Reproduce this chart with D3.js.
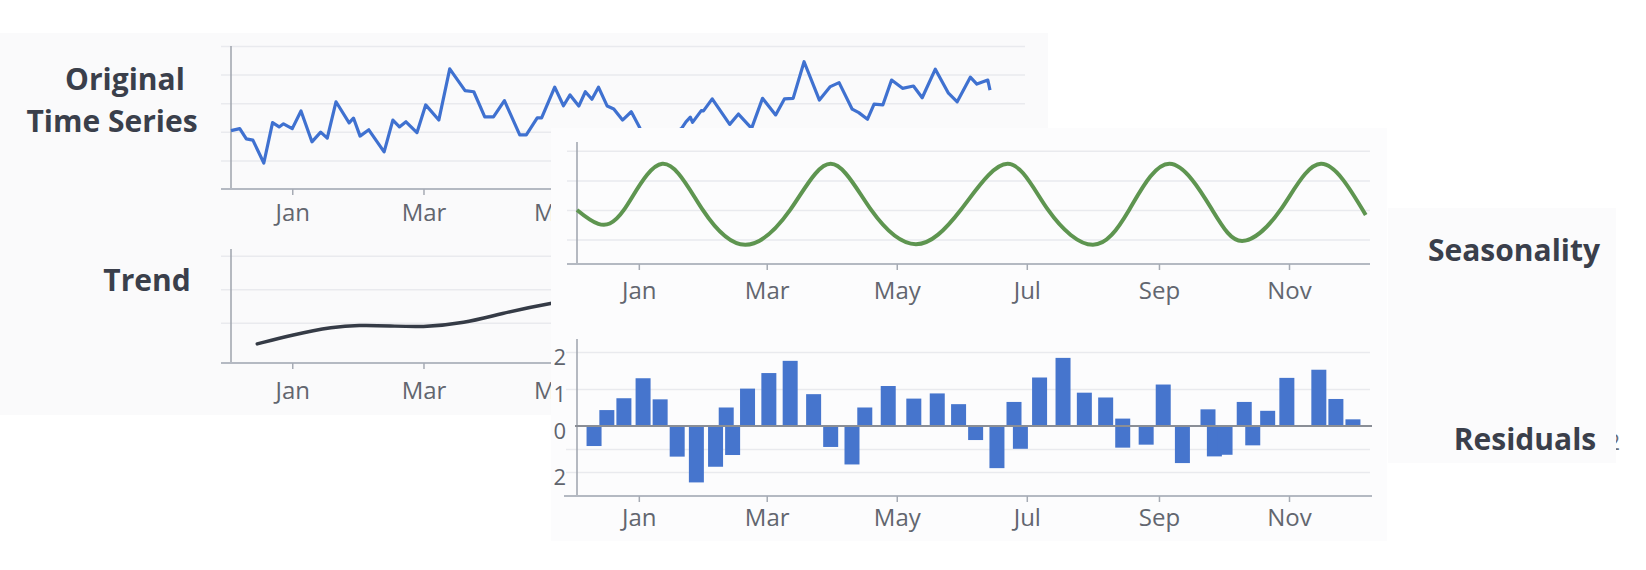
<!DOCTYPE html>
<html>
<head>
<meta charset="utf-8">
<script src="https://cdn.jsdelivr.net/npm/d3@7"></script>
<style>
  body { margin: 0; background: #ffffff; }
  svg { display: block; }
  text { font-family: "Open Sans", "DejaVu Sans", sans-serif; }
</style>
</head>
<body>
<svg width="1646" height="570"></svg>
<script>
// ---- data ----
const originalDates = ["2023-12-04","2023-12-08","2023-12-11","2023-12-14","2023-12-19","2023-12-23","2023-12-26","2023-12-28",
  "2024-01-01","2024-01-05","2024-01-10","2024-01-14","2024-01-17","2024-01-21","2024-01-27","2024-01-29",
  "2024-02-01","2024-02-05","2024-02-12","2024-02-16","2024-02-19","2024-02-22","2024-02-27",
  "2024-03-02","2024-03-08","2024-03-13","2024-03-20","2024-03-24","2024-03-29",
  "2024-04-02","2024-04-07","2024-04-14","2024-04-17","2024-04-22","2024-04-24","2024-04-30",
  "2024-05-04","2024-05-07","2024-05-11","2024-05-14","2024-05-17","2024-05-20","2024-05-24","2024-05-27","2024-05-31",
  "2024-06-04","2024-06-08","2024-06-14","2024-06-20","2024-06-27","2024-06-29",
  "2024-07-01","2024-07-02","2024-07-06","2024-07-07","2024-07-11","2024-07-19","2024-07-23","2024-07-29",
  "2024-08-03","2024-08-09","2024-08-13","2024-08-17","2024-08-22","2024-08-29",
  "2024-09-03","2024-09-07","2024-09-13","2024-09-16","2024-09-20","2024-09-23","2024-09-27",
  "2024-10-01","2024-10-06","2024-10-11","2024-10-15","2024-10-21","2024-10-27","2024-10-31",
  "2024-11-06","2024-11-09","2024-11-14","2024-11-15"];
const originalValues = [2.04,2.11,1.75,1.71,0.91,2.32,2.17,2.28,
  2.11,2.73,1.65,1.99,1.78,3.05,2.31,2.48,
  1.85,2.07,1.30,2.41,2.17,2.35,1.97,
  2.94,2.41,4.20,3.44,3.40,2.52,
  2.52,3.09,1.89,1.89,2.49,2.49,3.56,
  2.91,3.29,2.90,3.40,3.14,3.56,2.90,2.80,2.41,
  2.70,2.12,1.54,1.78,2.12,2.35,
  2.51,2.33,2.74,2.73,3.15,2.26,2.62,2.12,
  3.17,2.59,3.15,3.17,4.45,3.11,
  3.58,3.72,2.79,2.67,2.44,2.97,2.94,
  3.81,3.52,3.60,3.19,4.19,3.35,3.05,
  3.91,3.67,3.81,3.46];

const trendDates = ["2023-12-16","2024-01-01","2024-01-20","2024-01-31","2024-02-15","2024-02-29","2024-03-20","2024-04-05","2024-04-28","2024-06-01"];
const trendValues = [0.37,0.64,0.88,0.93,0.91,0.86,0.99,1.27,1.59,1.95];

const seasonDates = ["2023-12-03","2023-12-13","2023-12-25","2024-01-12","2024-01-31","2024-02-20","2024-03-12","2024-03-31",
  "2024-04-19","2024-05-10","2024-05-31","2024-06-22","2024-07-11","2024-08-01","2024-08-18","2024-09-06",
  "2024-09-26","2024-10-10","2024-10-28","2024-11-16","2024-12-07"];
const seasonValues = [0.00,-0.47,0.00,1.56,0.00,-1.18,0.00,1.56,
  0.00,-1.16,0.00,1.56,0.00,-1.18,0.00,1.56,
  0.00,-1.05,0.00,1.56,-0.17];

const residualDates = ["2023-12-11","2023-12-17","2023-12-25","2024-01-03","2024-01-11","2024-01-19","2024-01-28",
  "2024-02-06","2024-02-11","2024-02-14","2024-02-21","2024-03-02","2024-03-12","2024-03-23","2024-03-31",
  "2024-04-10","2024-04-16","2024-04-27","2024-05-09","2024-05-20","2024-05-30","2024-06-07","2024-06-17",
  "2024-06-25","2024-06-28","2024-07-07","2024-07-18","2024-07-28","2024-08-07","2024-08-15","2024-08-15",
  "2024-08-26","2024-09-03","2024-09-12","2024-09-24","2024-09-27","2024-10-02","2024-10-11","2024-10-15",
  "2024-10-22","2024-10-31","2024-11-15","2024-11-23","2024-12-01"];
const residualValues = [-0.87,0.43,0.75,1.29,0.72,-1.33,-2.45,
  -1.77,0.50,-1.26,1.01,1.43,1.76,0.86,-0.91,
  -1.67,0.50,1.08,0.74,0.88,0.59,-0.61,-1.83,
  0.65,-0.99,1.31,1.84,0.90,0.77,0.20,-0.94,
  -0.81,1.12,-1.61,0.45,-1.32,-1.25,0.65,-0.84,
  0.41,1.30,1.52,0.73,0.18];

const monthTicks = ["2024-01-01","2024-03-01","2024-05-01","2024-07-01","2024-09-01","2024-11-01"];
const residualTicks = [2, 1, 0, -2];

// ---- helpers ----
const parseDate = d3.timeParse("%Y-%m-%d");
const svg = d3.select("svg");
const tickFont = '"Open Sans", sans-serif';

function zip(dates, values) {
  return dates.map((d, i) => ({ date: parseDate(d), value: values[i] }));
}

function panel(x, y, w, h, fill) {
  svg.append("rect").attr("x", x).attr("y", y).attr("width", w).attr("height", h).attr("fill", fill);
}

function clip(id, x, y, w, h) {
  svg.append("clipPath").attr("id", id)
     .append("rect").attr("x", x).attr("y", y).attr("width", w).attr("height", h);
}

function grid(g, y, values, left, right) {
  g.append("g")
   .attr("transform", `translate(${left},0)`)
   .call(d3.axisLeft(y).tickValues(values).tickSize(-(right - left)).tickFormat(""))
   .call(s => s.select(".domain").remove())
   .selectAll("line").attr("stroke", "#e9eaee").attr("stroke-width", 1.5);
}

function yLine(g, xPos, y0, y1) {
  g.append("line").attr("x1", xPos).attr("x2", xPos).attr("y1", y0).attr("y2", y1)
   .attr("stroke", "#9ea3ad").attr("stroke-width", 1.5);
}

function xAxis(g, x, yPos, left, right, pad) {
  g.append("line").attr("x1", left).attr("x2", right).attr("y1", yPos).attr("y2", yPos)
   .attr("stroke", "#b4b9c2").attr("stroke-width", 2);
  const a = g.append("g")
   .attr("transform", `translate(0,${yPos})`)
   .call(d3.axisBottom(x).tickValues(monthTicks.map(parseDate))
          .tickFormat(d3.timeFormat("%b")).tickSize(6).tickPadding(pad));
  a.select(".domain").remove();
  a.selectAll("line").attr("stroke", "#a6abb4").attr("stroke-width", 1.5);
  a.attr("font-family", tickFont).attr("font-size", 24);
  a.selectAll("text").attr("fill", "#62666f");
}

function bigLabel(text, x, y, anchor) {
  svg.append("text").attr("x", x).attr("y", y).attr("text-anchor", anchor || "middle")
     .attr("font-size", 30).attr("font-weight", 700).attr("fill", "#3a3f4b").text(text);
}

// ---- back panel: original series + trend ----
panel(0, 33, 1048, 382, "#fafafb");
const back = svg.append("g");

const xBack = d3.scaleTime()
  .domain([parseDate("2023-12-04"), parseDate("2024-12-01")])
  .range([231, 1025]);

const yOrig = d3.scaleLinear().domain([0, 5]).range([189, 46]);
grid(back, yOrig, [1, 2, 3, 4, 5], 221, 1025);
yLine(back, 231, 46, 189);
xAxis(back, xBack, 189, 221, 1025, 9);
back.append("path")
  .datum(zip(originalDates, originalValues))
  .attr("fill", "none").attr("stroke", "#3f71d0").attr("stroke-width", 3.2)
  .attr("stroke-linejoin", "round")
  .attr("d", d3.line().x(d => xBack(d.date)).y(d => yOrig(d.value)));

const yTrend = d3.scaleLinear().domain([-0.2, 3.2]).range([363, 249]);
grid(back, yTrend, [1, 2, 3], 221, 1025);
yLine(back, 231, 249, 363);
xAxis(back, xBack, 363, 221, 1025, 13);
back.append("path")
  .datum(zip(trendDates, trendValues))
  .attr("fill", "none").attr("stroke", "#353b46").attr("stroke-width", 3.5)
  .attr("stroke-linecap", "round")
  .attr("d", d3.line().curve(d3.curveBasis).x(d => xBack(d.date)).y(d => yTrend(d.value)));

bigLabel("Original", 125, 90);
bigLabel("Time Series", 112, 132);
bigLabel("Trend", 147, 291);

// fragment of a label peeking out at the right edge
svg.append("text").attr("x", 1608).attr("y", 450).attr("font-size", 21)
   .attr("font-family", tickFont).attr("fill", "#6a6e77").text("2");

// ---- front panel: seasonality + residuals ----
panel(551, 128, 836, 413, "#fcfcfd");
clip("frontClip", 551, 128, 836, 413);
clip("labelClip", 554, 320, 40, 180);
const front = svg.append("g").attr("clip-path", "url(#frontClip)");

const xFront = d3.scaleTime()
  .domain([parseDate("2023-12-03"), parseDate("2024-12-09")])
  .range([577, 1370]);

const ySeason = d3.scaleLinear().domain([-1.83, 2.3]).range([264, 142]);
grid(front, ySeason, [-1, 0, 1, 2], 567, 1370);
yLine(front, 577, 142, 264);
xAxis(front, xFront, 264, 567, 1370, 12);
front.append("path")
  .datum(zip(seasonDates, seasonValues))
  .attr("fill", "none").attr("stroke", "#5e9550").attr("stroke-width", 4)
  .attr("d", d3.line().curve(d3.curveNatural).x(d => xFront(d.date)).y(d => ySeason(d.value)));

const yResid = d3.scaleLinear().domain([-3.04, 0, 2.35]).range([496, 426, 339]);
grid(front, yResid, [2, 1, -1, -2], 566, 1370);
yLine(front, 577, 339, 496);

const barW = 15;
front.selectAll(".bar")
  .data(zip(residualDates, residualValues))
  .enter().append("rect")
  .attr("class", "bar")
  .attr("x", d => xFront(d.date) - barW / 2)
  .attr("y", d => Math.min(yResid(d.value), yResid(0)))
  .attr("width", barW)
  .attr("height", d => Math.abs(yResid(d.value) - yResid(0)))
  .attr("fill", "#4675cd");

front.append("line")
  .attr("x1", 575).attr("x2", 1372).attr("y1", yResid(0)).attr("y2", yResid(0))
  .attr("stroke", "#8a8e96").attr("stroke-width", 2);

// the minus sign of -2 falls just outside the panel edge, as in the picture
const ra = front.append("g")
  .attr("clip-path", "url(#labelClip)")
  .append("g")
  .attr("transform", "translate(577,0)")
  .call(d3.axisLeft(yResid).tickValues(residualTicks).tickFormat(d3.format("d"))
          .tickSize(0).tickPadding(11));
ra.select(".domain").remove();
ra.attr("font-family", tickFont).attr("font-size", 22);
ra.selectAll("text").attr("fill", "#60646d").attr("dy", "0.55em");

xAxis(front, xFront, 496, 564, 1372, 7);

// ---- label panel on the right ----
panel(1388, 208, 228, 255, "#fbfbfc");
bigLabel("Seasonality", 1514, 261);
bigLabel("Residuals", 1525, 450);
</script>
</body>
</html>
